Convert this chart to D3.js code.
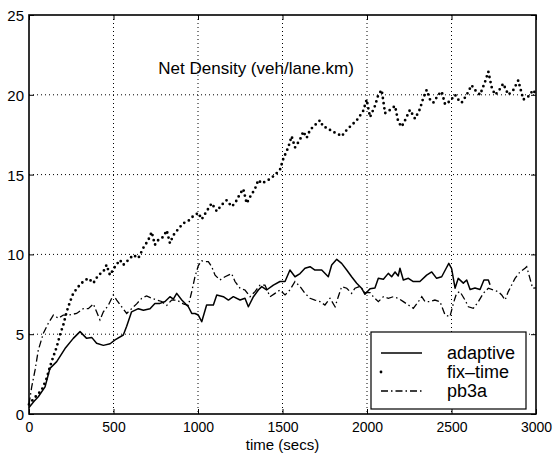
<!DOCTYPE html>
<html lang="en">
<head>
<meta charset="UTF-8">
<title>Net Density</title>
<style>
  body { margin: 0; padding: 0; background: #fff; }
  svg { display: block; font-family: "Liberation Sans", Arial, Helvetica, sans-serif; }
  .grid line { stroke: #000; stroke-width: 1; stroke-dasharray: 1,3; }
  .tick-label { font-size: 14px; fill: #000; }
</style>
</head>
<body>
<svg id="chart"></svg>
<script src="https://d3js.org/d3.v7.min.js"></script>
<script>
// values: [time (secs), density]
const adaptive = [[0,0.4],[30,0.8],[55,1.08],[95,1.7],[124,2.86],[164,3.28],[213,4.1],[262,4.74],[302,5.16],[341,4.74],[371,4.8],[400,4.43],[440,4.3],[480,4.4],[509,4.64],[558,4.95],[578,5.5],[607,6.4],[647,6.6],[677,6.5],[716,6.6],[745,6.93],[775,6.93],[805,7.05],[834,7.35],[854,7.2],[874,7.56],[904,7.14],[943,6.72],[963,6.3],[982,6.3],[1002,6.2],[1022,5.78],[1051,6.83],[1091,6.83],[1111,7.46],[1150,7.35],[1180,7.14],[1209,7.35],[1249,7.14],[1278,7.25],[1298,6.72],[1328,7.35],[1357,7.77],[1377,7.98],[1406,7.77],[1446,8.08],[1485,8.3],[1515,8.3],[1544,9.02],[1574,8.6],[1604,8.8],[1633,9.13],[1663,9.23],[1692,9.02],[1732,9.02],[1771,8.6],[1791,9.34],[1821,9.69],[1850,9.44],[1880,9.02],[1909,8.6],[1939,8.19],[1968,7.88],[1988,7.5],[2018,7.85],[2047,7.9],[2067,8.5],[2097,8.44],[2126,8.81],[2146,8.6],[2166,8.9],[2185,8.65],[2195,9.13],[2215,8.4],[2245,8.5],[2274,8.3],[2313,8.3],[2353,8.7],[2383,8.9],[2412,8.5],[2442,8.6],[2467,9.1],[2484,9.44],[2501,9.1],[2521,7.88],[2540,8.5],[2570,8.2],[2590,8.4],[2610,7.8],[2639,7.9],[2669,7.8],[2692,8.4],[2718,8.4],[2728,8.1]];

const fixTime = [[0,0.6],[36,1.05],[75,1.5],[105,2.24],[124,2.96],[144,3.6],[164,4.2],[183,4.95],[203,5.58],[223,6.41],[243,7.04],[262,7.56],[292,7.98],[321,8.3],[351,8.5],[381,8.2],[410,8.7],[440,8.92],[459,9.34],[479,8.7],[509,9.23],[538,9.65],[558,9.34],[588,9.65],[617,9.96],[647,9.76],[676,10.4],[706,10.9],[726,11.4],[745,10.6],[765,10.9],[795,11.1],[815,11.5],[834,10.7],[854,11.2],[884,11.6],[913,11.95],[943,12.1],[972,12.4],[1002,12.6],[1022,12.2],[1051,12.7],[1081,13.2],[1111,12.7],[1140,13.1],[1170,13.4],[1199,13.0],[1219,13.2],[1249,13.8],[1268,14.1],[1288,13.2],[1308,13.6],[1337,14.1],[1357,14.66],[1377,14.45],[1406,14.6],[1436,14.8],[1466,15.1],[1485,15.3],[1505,16.0],[1534,16.7],[1554,17.4],[1574,16.7],[1604,17.2],[1623,17.7],[1643,17.3],[1663,17.8],[1692,18.1],[1722,18.4],[1741,18.0],[1771,17.9],[1791,17.7],[1821,17.6],[1850,17.4],[1880,17.8],[1909,18.1],[1939,18.4],[1959,18.7],[1978,19.0],[1998,19.7],[2018,18.6],[2047,19.3],[2067,20.0],[2087,20.3],[2107,18.85],[2136,19.05],[2166,19.3],[2185,18.3],[2205,18.0],[2225,18.4],[2254,19.05],[2284,18.5],[2313,19.1],[2333,19.8],[2353,20.3],[2373,19.7],[2392,19.5],[2422,20.0],[2442,20.2],[2462,19.4],[2491,19.6],[2521,20.0],[2540,19.7],[2560,19.5],[2590,20.0],[2619,20.6],[2639,20.3],[2669,20.0],[2698,20.8],[2718,21.45],[2737,20.5],[2757,20.0],[2777,20.2],[2806,20.7],[2836,20.0],[2866,20.3],[2895,20.9],[2925,19.7],[2955,19.9],[2984,20.3],[3000,20.0]];

const pb3a = [[0,0.6],[16,1.7],[36,2.76],[55,4.0],[85,5.06],[114,5.68],[144,6.2],[174,6.0],[203,6.2],[233,6.2],[282,6.3],[321,6.6],[351,6.6],[381,6.9],[400,6.4],[420,5.9],[440,6.4],[469,6.8],[499,7.46],[519,7.14],[548,6.72],[578,6.3],[607,6.6],[637,6.9],[667,7.25],[696,7.4],[726,7.25],[755,7.14],[785,7.05],[815,6.8],[844,7.14],[874,7.14],[913,6.9],[943,6.8],[963,7.67],[982,8.6],[1002,9.3],[1022,9.6],[1040,9.55],[1061,9.55],[1081,9.23],[1101,8.7],[1130,8.4],[1160,8.6],[1199,8.8],[1219,8.3],[1249,7.88],[1278,7.77],[1308,7.35],[1337,7.67],[1367,8.08],[1396,8.08],[1426,7.35],[1456,7.56],[1485,7.77],[1515,7.46],[1544,7.77],[1574,8.3],[1604,7.98],[1633,7.56],[1663,7.25],[1692,7.14],[1722,7.04],[1751,6.83],[1781,7.25],[1811,6.72],[1830,7.35],[1850,7.98],[1880,7.88],[1909,7.56],[1929,7.88],[1959,8.0],[1988,7.6],[2018,7.6],[2037,7.35],[2067,7.04],[2097,7.35],[2126,7.25],[2156,7.35],[2185,7.25],[2215,7.04],[2245,6.83],[2274,6.62],[2304,7.04],[2324,7.35],[2343,7.04],[2373,7.04],[2402,7.14],[2432,7.04],[2462,6.2],[2491,6.1],[2511,6.93],[2530,7.56],[2550,7.67],[2580,7.14],[2600,6.72],[2629,6.62],[2659,7.04],[2688,7.56],[2718,7.88],[2747,7.77],[2777,7.67],[2797,7.46],[2817,7.14],[2836,7.67],[2856,8.08],[2876,8.5],[2905,8.9],[2935,9.13],[2945,9.23],[2964,8.5],[2980,7.88],[3000,7.9]];

const xTicks = [0, 500, 1000, 1500, 2000, 2500, 3000];
const yTicks = [0, 5, 10, 15, 20, 25];
const seriesNames = ["adaptive", "fix\u2013time", "pb3a"];

const width = 553, height = 455;
const margin = { top: 15, right: 17, bottom: 41, left: 29 };

const svg = d3.select("#chart").attr("width", width).attr("height", height);
const g = svg.append("g").attr("transform", `translate(${margin.left},${margin.top})`);
const w = width - margin.left - margin.right;
const h = height - margin.top - margin.bottom;

const x = d3.scaleLinear().domain([0, 3000]).range([0, w]);
const y = d3.scaleLinear().domain([0, 25]).range([h, 0]);

// dotted grid
const grid = g.append("g").attr("class", "grid");
grid.selectAll(".gx").data(xTicks.slice(1, -1)).enter().append("line")
  .attr("x1", d => x(d)).attr("x2", d => x(d)).attr("y1", 0).attr("y2", h);
grid.selectAll(".gy").data(yTicks.slice(1, -1)).enter().append("line")
  .attr("x1", 0).attr("x2", w).attr("y1", d => y(d)).attr("y2", d => y(d));

// axes with inward ticks, mirrored on top / right like matlab
const xAxis = g.append("g").attr("transform", `translate(0,${h})`)
  .call(d3.axisBottom(x).tickValues(xTicks).tickFormat(d3.format("d"))
    .tickSizeInner(-5).tickSizeOuter(0).tickPadding(8));
const yAxis = g.append("g")
  .call(d3.axisLeft(y).tickValues(yTicks).tickFormat(d3.format("d"))
    .tickSizeInner(-5).tickSizeOuter(0).tickPadding(5));
g.append("g").call(d3.axisTop(x).tickValues(xTicks).tickSizeInner(-5).tickSizeOuter(0).tickFormat(""));
g.append("g").attr("transform", `translate(${w},0)`)
  .call(d3.axisRight(y).tickValues(yTicks).tickSizeInner(-5).tickSizeOuter(0).tickFormat(""));

g.selectAll(".domain").remove();
g.selectAll(".tick line").attr("stroke", "#000").attr("stroke-width", 1);
xAxis.selectAll("text").attr("class", "tick-label").style("font-size", "14px");
yAxis.selectAll("text").attr("class", "tick-label").style("font-size", "15px").attr("dy", "0.36em");

g.append("rect").attr("width", w).attr("height", h)
  .attr("fill", "none").attr("stroke", "#000").attr("stroke-width", 1.6);

const line = d3.line().x(d => x(d[0])).y(d => y(d[1]));

g.append("path").datum(pb3a).attr("d", line)
  .attr("fill", "none").attr("stroke", "#000").attr("stroke-width", 1.3)
  .attr("stroke-dasharray", "7,3,1.5,3");
g.append("path").datum(adaptive).attr("d", line)
  .attr("fill", "none").attr("stroke", "#000").attr("stroke-width", 1.5)
  .attr("stroke-linejoin", "round");
g.append("path").datum(fixTime).attr("d", line)
  .attr("fill", "none").attr("stroke", "#000").attr("stroke-width", 2.8)
  .attr("stroke-linecap", "round").attr("stroke-dasharray", "0,5.2");

// title inside the axes
g.append("text").attr("x", x(765)).attr("y", y(21.3))
  .style("font-size", "17px").attr("fill", "#000")
  .text("Net Density (veh/lane.km)");

// x label
svg.append("text").attr("x", margin.left + w / 2).attr("y", 450)
  .attr("text-anchor", "middle").style("font-size", "15px")
  .text("time (secs)");

// legend
const legend = svg.append("g").attr("transform", "translate(371,332)");
legend.append("rect").attr("width", 155).attr("height", 77)
  .attr("fill", "#fff").attr("stroke", "#000").attr("stroke-width", 1.2);
const styles = [
  { w: 1.5, dash: null, cap: "butt" },
  { w: 2.8, dash: "0,41", cap: "round" },
  { w: 1.3, dash: "7,3,1.5,3", cap: "butt" }
];
seriesNames.forEach((name, i) => {
  const yy = 21 + i * 19;
  legend.append("line").attr("x1", 10).attr("x2", 51).attr("y1", yy).attr("y2", yy)
    .attr("stroke", "#000").attr("stroke-width", styles[i].w)
    .attr("stroke-linecap", styles[i].cap)
    .attr("stroke-dasharray", styles[i].dash);
  legend.append("text").attr("x", 76).attr("y", yy).attr("dy", "0.35em")
    .style("font-size", "18px").text(name);
});
</script>
</body>
</html>
